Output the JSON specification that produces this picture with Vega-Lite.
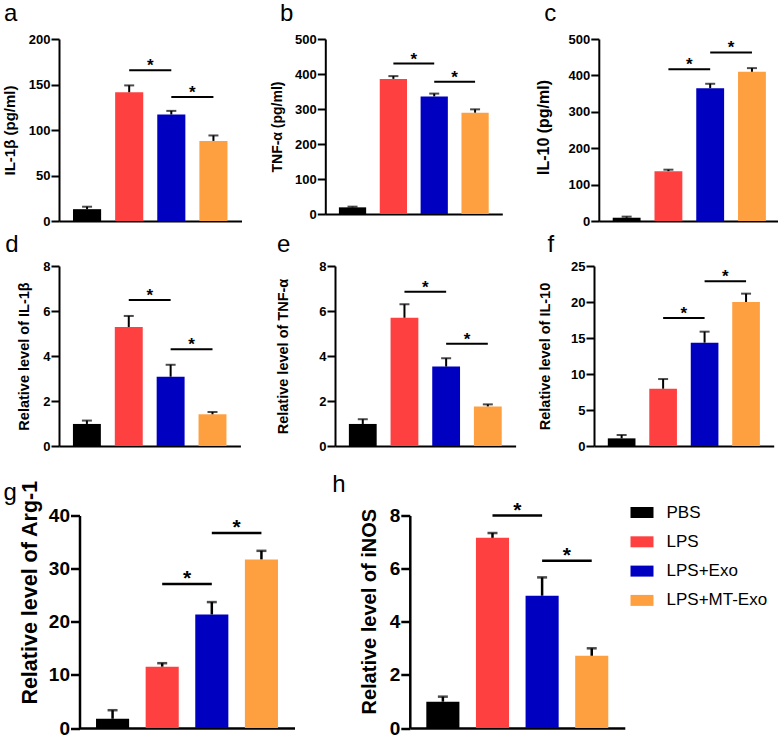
{
  "$schema": "https://vega.github.io/schema/vega-lite/v6.json",
  "padding": {"left": 2, "top": 2, "right": 0, "bottom": 0},
  "background": "white",
  "config": {
    "font": "Liberation Sans",
    "view": {"stroke": null},
    "axisX": {"labels": false, "ticks": false, "title": null, "domainColor": "black", "domainWidth": 2, "grid": false},
    "axisY": {"grid": false, "labelOverlap": false, "domainColor": "black", "domainWidth": 2, "tickColor": "black", "tickWidth": 2, "tickSize": 8, "labelPadding": 1, "labelFont": "Liberation Sans", "labelFontWeight": "bold", "labelFontSize": 13, "labelColor": "black", "titleFont": "Liberation Sans", "titleFontWeight": "bold", "titleColor": "black"},
    "title": {"anchor": "start", "frame": "bounds", "fontSize": 24, "fontWeight": "normal", "color": "black", "font": "Liberation Sans"}
  },
  "datasets": {
    "bars": [
      {"panel": "a", "group": "PBS", "mean": 13, "upper": 15.7},
      {"panel": "a", "group": "LPS", "mean": 141.5, "upper": 149},
      {"panel": "a", "group": "LPS+Exo", "mean": 117, "upper": 121},
      {"panel": "a", "group": "LPS+MT-Exo", "mean": 88, "upper": 94},
      {"panel": "b", "group": "PBS", "mean": 19, "upper": 21},
      {"panel": "b", "group": "LPS", "mean": 386, "upper": 394},
      {"panel": "b", "group": "LPS+Exo", "mean": 336, "upper": 344},
      {"panel": "b", "group": "LPS+MT-Exo", "mean": 289.5, "upper": 299},
      {"panel": "c", "group": "PBS", "mean": 9, "upper": 12},
      {"panel": "c", "group": "LPS", "mean": 137, "upper": 141},
      {"panel": "c", "group": "LPS+Exo", "mean": 365, "upper": 377},
      {"panel": "c", "group": "LPS+MT-Exo", "mean": 410, "upper": 420},
      {"panel": "d", "group": "PBS", "mean": 0.98, "upper": 1.13},
      {"panel": "d", "group": "LPS", "mean": 5.29, "upper": 5.78},
      {"panel": "d", "group": "LPS+Exo", "mean": 3.08, "upper": 3.61},
      {"panel": "d", "group": "LPS+MT-Exo", "mean": 1.41, "upper": 1.51},
      {"panel": "e", "group": "PBS", "mean": 0.98, "upper": 1.19},
      {"panel": "e", "group": "LPS", "mean": 5.7, "upper": 6.3},
      {"panel": "e", "group": "LPS+Exo", "mean": 3.53, "upper": 3.9},
      {"panel": "e", "group": "LPS+MT-Exo", "mean": 1.76, "upper": 1.85},
      {"panel": "f", "group": "PBS", "mean": 1.06, "upper": 1.53},
      {"panel": "f", "group": "LPS", "mean": 7.96, "upper": 9.3},
      {"panel": "f", "group": "LPS+Exo", "mean": 14.35, "upper": 15.88},
      {"panel": "f", "group": "LPS+MT-Exo", "mean": 20.0, "upper": 21.16},
      {"panel": "g", "group": "PBS", "mean": 1.74, "upper": 3.35},
      {"panel": "g", "group": "LPS", "mean": 11.55, "upper": 12.2},
      {"panel": "g", "group": "LPS+Exo", "mean": 21.37, "upper": 23.7},
      {"panel": "g", "group": "LPS+MT-Exo", "mean": 31.74, "upper": 33.35},
      {"panel": "h", "group": "PBS", "mean": 0.99, "upper": 1.18},
      {"panel": "h", "group": "LPS", "mean": 7.16, "upper": 7.34},
      {"panel": "h", "group": "LPS+Exo", "mean": 4.98, "upper": 5.67},
      {"panel": "h", "group": "LPS+MT-Exo", "mean": 2.72, "upper": 3.0}
    ],
    "sig": [
      {"panel": "a", "from": "LPS", "to": "LPS+Exo", "y": 165.6},
      {"panel": "a", "from": "LPS+Exo", "to": "LPS+MT-Exo", "y": 136.2},
      {"panel": "b", "from": "LPS", "to": "LPS+Exo", "y": 430},
      {"panel": "b", "from": "LPS+Exo", "to": "LPS+MT-Exo", "y": 378},
      {"panel": "c", "from": "LPS", "to": "LPS+Exo", "y": 417},
      {"panel": "c", "from": "LPS+Exo", "to": "LPS+MT-Exo", "y": 463},
      {"panel": "d", "from": "LPS", "to": "LPS+Exo", "y": 6.49},
      {"panel": "d", "from": "LPS+Exo", "to": "LPS+MT-Exo", "y": 4.3},
      {"panel": "e", "from": "LPS", "to": "LPS+Exo", "y": 6.86},
      {"panel": "e", "from": "LPS+Exo", "to": "LPS+MT-Exo", "y": 4.55},
      {"panel": "f", "from": "LPS", "to": "LPS+Exo", "y": 17.78},
      {"panel": "f", "from": "LPS+Exo", "to": "LPS+MT-Exo", "y": 22.87},
      {"panel": "g", "from": "LPS", "to": "LPS+Exo", "y": 27.1},
      {"panel": "g", "from": "LPS+Exo", "to": "LPS+MT-Exo", "y": 36.7},
      {"panel": "h", "from": "LPS", "to": "LPS+Exo", "y": 8.0},
      {"panel": "h", "from": "LPS+Exo", "to": "LPS+MT-Exo", "y": 6.3}
    ]
  },
  "resolve": {"scale": {"color": "independent"}, "legend": {"color": "independent"}},
  "spacing": 19.5,
  "vconcat": [
    {
      "spacing": 5,
      "resolve": {"scale": {"color": "independent"}, "legend": {"color": "independent"}},
      "vconcat": [
        {
          "spacing": 27.3,
          "resolve": {"scale": {"color": "independent"}, "legend": {"color": "independent"}},
          "hconcat": [
            {
              "width": 182.5, "height": 182,
              "title": {"text": "a", "dx": 1.6, "offset": 7},
              "data": {"name": "bars"},
              "transform": [{"filter": "datum.panel === 'a'"}],
              "encoding": {"x": {"field": "group", "type": "nominal", "scale": {"domain": ["PBS", "LPS", "LPS+Exo", "LPS+MT-Exo"], "paddingInner": 0.333, "paddingOuter": 0.333}}},
              "layer": [
                {"mark": {"type": "bar"}, "encoding": {"y": {"field": "mean", "type": "quantitative", "scale": {"domain": [0, 200], "nice": false}, "axis": {"values": [0, 50, 100, 150, 200], "title": "IL-1β (pg/ml)", "titleFontSize": 15, "titlePadding": 11}}, "color": {"field": "group", "type": "nominal", "scale": {"domain": ["PBS", "LPS", "LPS+Exo", "LPS+MT-Exo"], "range": ["#000000", "#FF4040", "#0000C0", "#FFA040"]}, "legend": null}}},
                {"mark": {"type": "rule", "strokeWidth": 2, "color": "black"}, "encoding": {"y": {"field": "mean", "type": "quantitative", "scale": {"domain": [0, 200], "nice": false}, "axis": {"values": [0, 50, 100, 150, 200], "title": "IL-1β (pg/ml)", "titleFontSize": 15, "titlePadding": 11}}, "y2": {"field": "upper"}}},
                {"mark": {"type": "tick", "size": 10, "thickness": 2, "color": "black"}, "encoding": {"y": {"field": "upper", "type": "quantitative", "scale": {"domain": [0, 200], "nice": false}, "axis": {"values": [0, 50, 100, 150, 200], "title": "IL-1β (pg/ml)", "titleFontSize": 15, "titlePadding": 11}}}},
                {"data": {"name": "sig"}, "transform": [{"filter": "datum.panel === 'a'"}], "mark": {"type": "rule", "strokeWidth": 2, "color": "black"}, "encoding": {"x": {"field": "from", "type": "nominal"}, "x2": {"field": "to"}, "y": {"field": "y", "type": "quantitative", "scale": {"domain": [0, 200], "nice": false}, "axis": {"values": [0, 50, 100, 150, 200], "title": "IL-1β (pg/ml)", "titleFontSize": 15, "titlePadding": 11}}}},
                {"data": {"name": "sig"}, "transform": [{"filter": "datum.panel === 'a'"}], "mark": {"type": "text", "text": "*", "dx": 21, "dy": 1, "fontSize": 17, "fontWeight": "bold", "baseline": "alphabetic", "color": "black"}, "encoding": {"x": {"field": "from", "type": "nominal"}, "y": {"field": "y", "type": "quantitative", "scale": {"domain": [0, 200], "nice": false}, "axis": {"values": [0, 50, 100, 150, 200], "title": "IL-1β (pg/ml)", "titleFontSize": 15, "titlePadding": 11}}}}
              ]
            },
            {
              "spacing": 96.5,
              "bounds": "flush",
              "resolve": {"scale": {"color": "independent"}, "legend": {"color": "independent"}},
              "hconcat": [
                {
                  "width": 177, "height": 175,
                  "title": {"text": "b", "dx": 10, "offset": 7},
                  "data": {"name": "bars"},
                  "transform": [{"filter": "datum.panel === 'b'"}],
                  "encoding": {"x": {"field": "group", "type": "nominal", "scale": {"domain": ["PBS", "LPS", "LPS+Exo", "LPS+MT-Exo"], "paddingInner": 0.333, "paddingOuter": 0.333}}},
                  "layer": [
                    {"mark": {"type": "bar"}, "encoding": {"y": {"field": "mean", "type": "quantitative", "scale": {"domain": [0, 500], "nice": false}, "axis": {"values": [0, 100, 200, 300, 400, 500], "title": "TNF-α (pg/ml)", "titleFontSize": 14, "titlePadding": 10.5}}, "color": {"field": "group", "type": "nominal", "scale": {"domain": ["PBS", "LPS", "LPS+Exo", "LPS+MT-Exo"], "range": ["#000000", "#FF4040", "#0000C0", "#FFA040"]}, "legend": null}}},
                    {"mark": {"type": "rule", "strokeWidth": 2, "color": "black"}, "encoding": {"y": {"field": "mean", "type": "quantitative", "scale": {"domain": [0, 500], "nice": false}, "axis": {"values": [0, 100, 200, 300, 400, 500], "title": "TNF-α (pg/ml)", "titleFontSize": 14, "titlePadding": 10.5}}, "y2": {"field": "upper"}}},
                    {"mark": {"type": "tick", "size": 10, "thickness": 2, "color": "black"}, "encoding": {"y": {"field": "upper", "type": "quantitative", "scale": {"domain": [0, 500], "nice": false}, "axis": {"values": [0, 100, 200, 300, 400, 500], "title": "TNF-α (pg/ml)", "titleFontSize": 14, "titlePadding": 10.5}}}},
                    {"data": {"name": "sig"}, "transform": [{"filter": "datum.panel === 'b'"}], "mark": {"type": "rule", "strokeWidth": 2, "color": "black"}, "encoding": {"x": {"field": "from", "type": "nominal"}, "x2": {"field": "to"}, "y": {"field": "y", "type": "quantitative", "scale": {"domain": [0, 500], "nice": false}, "axis": {"values": [0, 100, 200, 300, 400, 500], "title": "TNF-α (pg/ml)", "titleFontSize": 14, "titlePadding": 10.5}}}},
                    {"data": {"name": "sig"}, "transform": [{"filter": "datum.panel === 'b'"}], "mark": {"type": "text", "text": "*", "dx": 20.4, "dy": 1, "fontSize": 17, "fontWeight": "bold", "baseline": "alphabetic", "color": "black"}, "encoding": {"x": {"field": "from", "type": "nominal"}, "y": {"field": "y", "type": "quantitative", "scale": {"domain": [0, 500], "nice": false}, "axis": {"values": [0, 100, 200, 300, 400, 500], "title": "TNF-α (pg/ml)", "titleFontSize": 14, "titlePadding": 10.5}}}}
                  ]
                },
                {
                  "width": 181, "height": 182,
                  "title": {"text": "c", "dx": 8.4, "offset": 7},
                  "data": {"name": "bars"},
                  "transform": [{"filter": "datum.panel === 'c'"}],
                  "encoding": {"x": {"field": "group", "type": "nominal", "scale": {"domain": ["PBS", "LPS", "LPS+Exo", "LPS+MT-Exo"], "paddingInner": 0.333, "paddingOuter": 0.333}}},
                  "layer": [
                    {"mark": {"type": "bar"}, "encoding": {"y": {"field": "mean", "type": "quantitative", "scale": {"domain": [0, 500], "nice": false}, "axis": {"values": [0, 100, 200, 300, 400, 500], "title": "IL-10 (pg/ml)", "titleFontSize": 16, "titlePadding": 16.3, "titleY": 88}}, "color": {"field": "group", "type": "nominal", "scale": {"domain": ["PBS", "LPS", "LPS+Exo", "LPS+MT-Exo"], "range": ["#000000", "#FF4040", "#0000C0", "#FFA040"]}, "legend": null}}},
                    {"mark": {"type": "rule", "strokeWidth": 2, "color": "black"}, "encoding": {"y": {"field": "mean", "type": "quantitative", "scale": {"domain": [0, 500], "nice": false}, "axis": {"values": [0, 100, 200, 300, 400, 500], "title": "IL-10 (pg/ml)", "titleFontSize": 16, "titlePadding": 16.3, "titleY": 88}}, "y2": {"field": "upper"}}},
                    {"mark": {"type": "tick", "size": 10, "thickness": 2, "color": "black"}, "encoding": {"y": {"field": "upper", "type": "quantitative", "scale": {"domain": [0, 500], "nice": false}, "axis": {"values": [0, 100, 200, 300, 400, 500], "title": "IL-10 (pg/ml)", "titleFontSize": 16, "titlePadding": 16.3, "titleY": 88}}}},
                    {"data": {"name": "sig"}, "transform": [{"filter": "datum.panel === 'c'"}], "mark": {"type": "rule", "strokeWidth": 2, "color": "black"}, "encoding": {"x": {"field": "from", "type": "nominal"}, "x2": {"field": "to"}, "y": {"field": "y", "type": "quantitative", "scale": {"domain": [0, 500], "nice": false}, "axis": {"values": [0, 100, 200, 300, 400, 500], "title": "IL-10 (pg/ml)", "titleFontSize": 16, "titlePadding": 16.3, "titleY": 88}}}},
                    {"data": {"name": "sig"}, "transform": [{"filter": "datum.panel === 'c'"}], "mark": {"type": "text", "text": "*", "dx": 20.9, "dy": 1, "fontSize": 17, "fontWeight": "bold", "baseline": "alphabetic", "color": "black"}, "encoding": {"x": {"field": "from", "type": "nominal"}, "y": {"field": "y", "type": "quantitative", "scale": {"domain": [0, 500], "nice": false}, "axis": {"values": [0, 100, 200, 300, 400, 500], "title": "IL-10 (pg/ml)", "titleFontSize": 16, "titlePadding": 16.3, "titleY": 88}}}}
                  ]
                }
              ]
            }
          ]
        },
        {
          "spacing": 34,
          "resolve": {"scale": {"color": "independent"}, "legend": {"color": "independent"}},
          "hconcat": [
            {
              "width": 181.4, "height": 180,
              "title": {"text": "d", "dx": -11, "offset": 3},
              "data": {"name": "bars"},
              "transform": [{"filter": "datum.panel === 'd'"}],
              "encoding": {"x": {"field": "group", "type": "nominal", "scale": {"domain": ["PBS", "LPS", "LPS+Exo", "LPS+MT-Exo"], "paddingInner": 0.333, "paddingOuter": 0.333}}},
              "layer": [
                {"mark": {"type": "bar"}, "encoding": {"y": {"field": "mean", "type": "quantitative", "scale": {"domain": [0, 8], "nice": false}, "axis": {"values": [0, 2, 4, 6, 8], "title": "Relative level of IL-1β", "titleFontSize": 14.5, "titlePadding": 11.6}}, "color": {"field": "group", "type": "nominal", "scale": {"domain": ["PBS", "LPS", "LPS+Exo", "LPS+MT-Exo"], "range": ["#000000", "#FF4040", "#0000C0", "#FFA040"]}, "legend": null}}},
                {"mark": {"type": "rule", "strokeWidth": 2, "color": "black"}, "encoding": {"y": {"field": "mean", "type": "quantitative", "scale": {"domain": [0, 8], "nice": false}, "axis": {"values": [0, 2, 4, 6, 8], "title": "Relative level of IL-1β", "titleFontSize": 14.5, "titlePadding": 11.6}}, "y2": {"field": "upper"}}},
                {"mark": {"type": "tick", "size": 10, "thickness": 2, "color": "black"}, "encoding": {"y": {"field": "upper", "type": "quantitative", "scale": {"domain": [0, 8], "nice": false}, "axis": {"values": [0, 2, 4, 6, 8], "title": "Relative level of IL-1β", "titleFontSize": 14.5, "titlePadding": 11.6}}}},
                {"data": {"name": "sig"}, "transform": [{"filter": "datum.panel === 'd'"}], "mark": {"type": "rule", "strokeWidth": 2, "color": "black"}, "encoding": {"x": {"field": "from", "type": "nominal"}, "x2": {"field": "to"}, "y": {"field": "y", "type": "quantitative", "scale": {"domain": [0, 8], "nice": false}, "axis": {"values": [0, 2, 4, 6, 8], "title": "Relative level of IL-1β", "titleFontSize": 14.5, "titlePadding": 11.6}}}},
                {"data": {"name": "sig"}, "transform": [{"filter": "datum.panel === 'd'"}], "mark": {"type": "text", "text": "*", "dx": 21, "dy": 1, "fontSize": 17, "fontWeight": "bold", "baseline": "alphabetic", "color": "black"}, "encoding": {"x": {"field": "from", "type": "nominal"}, "y": {"field": "y", "type": "quantitative", "scale": {"domain": [0, 8], "nice": false}, "axis": {"values": [0, 2, 4, 6, 8], "title": "Relative level of IL-1β", "titleFontSize": 14.5, "titlePadding": 11.6}}}}
              ]
            },
            {
              "spacing": 78,
              "bounds": "flush",
              "resolve": {"scale": {"color": "independent"}, "legend": {"color": "independent"}},
              "hconcat": [
                {
                  "width": 180.6, "height": 180,
                  "title": {"text": "e", "dx": 1.6, "offset": 3},
                  "data": {"name": "bars"},
                  "transform": [{"filter": "datum.panel === 'e'"}],
                  "encoding": {"x": {"field": "group", "type": "nominal", "scale": {"domain": ["PBS", "LPS", "LPS+Exo", "LPS+MT-Exo"], "paddingInner": 0.333, "paddingOuter": 0.333}}},
                  "layer": [
                    {"mark": {"type": "bar"}, "encoding": {"y": {"field": "mean", "type": "quantitative", "scale": {"domain": [0, 8], "nice": false}, "axis": {"values": [0, 2, 4, 6, 8], "title": "Relative level of TNF-α", "titleFontSize": 14.5, "titlePadding": 28.3}}, "color": {"field": "group", "type": "nominal", "scale": {"domain": ["PBS", "LPS", "LPS+Exo", "LPS+MT-Exo"], "range": ["#000000", "#FF4040", "#0000C0", "#FFA040"]}, "legend": null}}},
                    {"mark": {"type": "rule", "strokeWidth": 2, "color": "black"}, "encoding": {"y": {"field": "mean", "type": "quantitative", "scale": {"domain": [0, 8], "nice": false}, "axis": {"values": [0, 2, 4, 6, 8], "title": "Relative level of TNF-α", "titleFontSize": 14.5, "titlePadding": 28.3}}, "y2": {"field": "upper"}}},
                    {"mark": {"type": "tick", "size": 10, "thickness": 2, "color": "black"}, "encoding": {"y": {"field": "upper", "type": "quantitative", "scale": {"domain": [0, 8], "nice": false}, "axis": {"values": [0, 2, 4, 6, 8], "title": "Relative level of TNF-α", "titleFontSize": 14.5, "titlePadding": 28.3}}}},
                    {"data": {"name": "sig"}, "transform": [{"filter": "datum.panel === 'e'"}], "mark": {"type": "rule", "strokeWidth": 2, "color": "black"}, "encoding": {"x": {"field": "from", "type": "nominal"}, "x2": {"field": "to"}, "y": {"field": "y", "type": "quantitative", "scale": {"domain": [0, 8], "nice": false}, "axis": {"values": [0, 2, 4, 6, 8], "title": "Relative level of TNF-α", "titleFontSize": 14.5, "titlePadding": 28.3}}}},
                    {"data": {"name": "sig"}, "transform": [{"filter": "datum.panel === 'e'"}], "mark": {"type": "text", "text": "*", "dx": 20.9, "dy": 1, "fontSize": 17, "fontWeight": "bold", "baseline": "alphabetic", "color": "black"}, "encoding": {"x": {"field": "from", "type": "nominal"}, "y": {"field": "y", "type": "quantitative", "scale": {"domain": [0, 8], "nice": false}, "axis": {"values": [0, 2, 4, 6, 8], "title": "Relative level of TNF-α", "titleFontSize": 14.5, "titlePadding": 28.3}}}}
                  ]
                },
                {
                  "width": 179.7, "height": 180,
                  "title": {"text": "f", "dx": 10, "offset": 3},
                  "data": {"name": "bars"},
                  "transform": [{"filter": "datum.panel === 'f'"}],
                  "encoding": {"x": {"field": "group", "type": "nominal", "scale": {"domain": ["PBS", "LPS", "LPS+Exo", "LPS+MT-Exo"], "paddingInner": 0.333, "paddingOuter": 0.333}}},
                  "layer": [
                    {"mark": {"type": "bar"}, "encoding": {"y": {"field": "mean", "type": "quantitative", "scale": {"domain": [0, 25], "nice": false}, "axis": {"values": [0, 5, 10, 15, 20, 25], "title": "Relative level of IL-10", "titleFontSize": 14.5, "titlePadding": 18}}, "color": {"field": "group", "type": "nominal", "scale": {"domain": ["PBS", "LPS", "LPS+Exo", "LPS+MT-Exo"], "range": ["#000000", "#FF4040", "#0000C0", "#FFA040"]}, "legend": null}}},
                    {"mark": {"type": "rule", "strokeWidth": 2, "color": "black"}, "encoding": {"y": {"field": "mean", "type": "quantitative", "scale": {"domain": [0, 25], "nice": false}, "axis": {"values": [0, 5, 10, 15, 20, 25], "title": "Relative level of IL-10", "titleFontSize": 14.5, "titlePadding": 18}}, "y2": {"field": "upper"}}},
                    {"mark": {"type": "tick", "size": 10, "thickness": 2, "color": "black"}, "encoding": {"y": {"field": "upper", "type": "quantitative", "scale": {"domain": [0, 25], "nice": false}, "axis": {"values": [0, 5, 10, 15, 20, 25], "title": "Relative level of IL-10", "titleFontSize": 14.5, "titlePadding": 18}}}},
                    {"data": {"name": "sig"}, "transform": [{"filter": "datum.panel === 'f'"}], "mark": {"type": "rule", "strokeWidth": 2, "color": "black"}, "encoding": {"x": {"field": "from", "type": "nominal"}, "x2": {"field": "to"}, "y": {"field": "y", "type": "quantitative", "scale": {"domain": [0, 25], "nice": false}, "axis": {"values": [0, 5, 10, 15, 20, 25], "title": "Relative level of IL-10", "titleFontSize": 14.5, "titlePadding": 18}}}},
                    {"data": {"name": "sig"}, "transform": [{"filter": "datum.panel === 'f'"}], "mark": {"type": "text", "text": "*", "dx": 20.7, "dy": 1, "fontSize": 17, "fontWeight": "bold", "baseline": "alphabetic", "color": "black"}, "encoding": {"x": {"field": "from", "type": "nominal"}, "y": {"field": "y", "type": "quantitative", "scale": {"domain": [0, 25], "nice": false}, "axis": {"values": [0, 5, 10, 15, 20, 25], "title": "Relative level of IL-10", "titleFontSize": 14.5, "titlePadding": 18}}}}
                  ]
                }
              ]
            }
          ]
        }
      ]
    },
    {
      "spacing": 19.5,
      "bounds": "flush",
      "resolve": {"scale": {"color": "independent"}, "legend": {"color": "independent"}},
      "hconcat": [
        {"width": 1, "height": 1, "data": {"values": []}, "mark": {"type": "point", "opacity": 0}},
        {
          "spacing": 115.3,
          "bounds": "flush",
          "resolve": {"scale": {"color": "independent"}, "legend": {"color": "independent"}},
          "hconcat": [
            {
              "width": 215, "height": 212.5,
              "title": {"text": "g", "dx": -16, "offset": -24.7},
              "data": {"name": "bars"},
              "transform": [{"filter": "datum.panel === 'g'"}],
              "encoding": {"x": {"field": "group", "type": "nominal", "scale": {"domain": ["PBS", "LPS", "LPS+Exo", "LPS+MT-Exo"], "paddingInner": 0.333, "paddingOuter": 0.333}, "axis": {"domainWidth": 2.5}}},
              "layer": [
                {"mark": {"type": "bar"}, "encoding": {"y": {"field": "mean", "type": "quantitative", "scale": {"domain": [0, 40], "nice": false}, "axis": {"values": [0, 10, 20, 30, 40], "title": "Relative level of Arg-1", "titleFontSize": 21.5, "titlePadding": 6.9, "titleY": 76.7, "labelFontSize": 19, "tickSize": 9, "domainWidth": 2.5, "tickWidth": 2.5}}, "color": {"field": "group", "type": "nominal", "scale": {"domain": ["PBS", "LPS", "LPS+Exo", "LPS+MT-Exo"], "range": ["#000000", "#FF4040", "#0000C0", "#FFA040"]}, "legend": null}}},
                {"mark": {"type": "rule", "strokeWidth": 2.5, "color": "black"}, "encoding": {"y": {"field": "mean", "type": "quantitative", "scale": {"domain": [0, 40], "nice": false}, "axis": {"values": [0, 10, 20, 30, 40], "title": "Relative level of Arg-1", "titleFontSize": 21.5, "titlePadding": 6.9, "titleY": 76.7, "labelFontSize": 19, "tickSize": 9, "domainWidth": 2.5, "tickWidth": 2.5}}, "y2": {"field": "upper"}}},
                {"mark": {"type": "tick", "size": 10, "thickness": 2.5, "color": "black"}, "encoding": {"y": {"field": "upper", "type": "quantitative", "scale": {"domain": [0, 40], "nice": false}, "axis": {"values": [0, 10, 20, 30, 40], "title": "Relative level of Arg-1", "titleFontSize": 21.5, "titlePadding": 6.9, "titleY": 76.7, "labelFontSize": 19, "tickSize": 9, "domainWidth": 2.5, "tickWidth": 2.5}}}},
                {"data": {"name": "sig"}, "transform": [{"filter": "datum.panel === 'g'"}], "mark": {"type": "rule", "strokeWidth": 2.5, "color": "black"}, "encoding": {"x": {"field": "from", "type": "nominal"}, "x2": {"field": "to"}, "y": {"field": "y", "type": "quantitative", "scale": {"domain": [0, 40], "nice": false}, "axis": {"values": [0, 10, 20, 30, 40], "title": "Relative level of Arg-1", "titleFontSize": 21.5, "titlePadding": 6.9, "titleY": 76.7, "labelFontSize": 19, "tickSize": 9, "domainWidth": 2.5, "tickWidth": 2.5}}}},
                {"data": {"name": "sig"}, "transform": [{"filter": "datum.panel === 'g'"}], "mark": {"type": "text", "text": "*", "dx": 24.8, "dy": 1, "fontSize": 21, "fontWeight": "bold", "baseline": "alphabetic", "color": "black"}, "encoding": {"x": {"field": "from", "type": "nominal"}, "y": {"field": "y", "type": "quantitative", "scale": {"domain": [0, 40], "nice": false}, "axis": {"values": [0, 10, 20, 30, 40], "title": "Relative level of Arg-1", "titleFontSize": 21.5, "titlePadding": 6.9, "titleY": 76.7, "labelFontSize": 19, "tickSize": 9, "domainWidth": 2.5, "tickWidth": 2.5}}}}
              ]
            },
            {
              "width": 215, "height": 212.5,
              "title": {"text": "h", "dx": -27.6, "offset": 3},
              "data": {"name": "bars"},
              "transform": [{"filter": "datum.panel === 'h'"}],
              "encoding": {"x": {"field": "group", "type": "nominal", "scale": {"domain": ["PBS", "LPS", "LPS+Exo", "LPS+MT-Exo"], "paddingInner": 0.333, "paddingOuter": 0.333}, "axis": {"domainWidth": 2.5}}},
              "layer": [
                {"mark": {"type": "bar"}, "encoding": {"y": {"field": "mean", "type": "quantitative", "scale": {"domain": [0, 8], "nice": false}, "axis": {"values": [0, 2, 4, 6, 8], "title": "Relative level of iNOS", "titleFontSize": 20, "titlePadding": 9.4, "titleY": 95.7, "labelFontSize": 19, "tickSize": 9, "domainWidth": 2.5, "tickWidth": 2.5}}, "color": {"field": "group", "type": "nominal", "scale": {"domain": ["PBS", "LPS", "LPS+Exo", "LPS+MT-Exo"], "range": ["#000000", "#FF4040", "#0000C0", "#FFA040"]}, "legend": {"orient": "none", "legendX": 220.7, "legendY": -14.5, "title": null, "symbolType": "M-1,-0.478H1V0.478H-1Z", "symbolSize": 529, "symbolStrokeWidth": 0, "labelFontSize": 17, "labelFont": "Liberation Sans", "labelColor": "black", "rowPadding": 9.3, "labelOffset": 13}}}},
                {"mark": {"type": "rule", "strokeWidth": 2.5, "color": "black"}, "encoding": {"y": {"field": "mean", "type": "quantitative", "scale": {"domain": [0, 8], "nice": false}, "axis": {"values": [0, 2, 4, 6, 8], "title": "Relative level of iNOS", "titleFontSize": 20, "titlePadding": 9.4, "titleY": 95.7, "labelFontSize": 19, "tickSize": 9, "domainWidth": 2.5, "tickWidth": 2.5}}, "y2": {"field": "upper"}}},
                {"mark": {"type": "tick", "size": 10, "thickness": 2.5, "color": "black"}, "encoding": {"y": {"field": "upper", "type": "quantitative", "scale": {"domain": [0, 8], "nice": false}, "axis": {"values": [0, 2, 4, 6, 8], "title": "Relative level of iNOS", "titleFontSize": 20, "titlePadding": 9.4, "titleY": 95.7, "labelFontSize": 19, "tickSize": 9, "domainWidth": 2.5, "tickWidth": 2.5}}}},
                {"data": {"name": "sig"}, "transform": [{"filter": "datum.panel === 'h'"}], "mark": {"type": "rule", "strokeWidth": 2.5, "color": "black"}, "encoding": {"x": {"field": "from", "type": "nominal"}, "x2": {"field": "to"}, "y": {"field": "y", "type": "quantitative", "scale": {"domain": [0, 8], "nice": false}, "axis": {"values": [0, 2, 4, 6, 8], "title": "Relative level of iNOS", "titleFontSize": 20, "titlePadding": 9.4, "titleY": 95.7, "labelFontSize": 19, "tickSize": 9, "domainWidth": 2.5, "tickWidth": 2.5}}}},
                {"data": {"name": "sig"}, "transform": [{"filter": "datum.panel === 'h'"}], "mark": {"type": "text", "text": "*", "dx": 24.8, "dy": 1, "fontSize": 21, "fontWeight": "bold", "baseline": "alphabetic", "color": "black"}, "encoding": {"x": {"field": "from", "type": "nominal"}, "y": {"field": "y", "type": "quantitative", "scale": {"domain": [0, 8], "nice": false}, "axis": {"values": [0, 2, 4, 6, 8], "title": "Relative level of iNOS", "titleFontSize": 20, "titlePadding": 9.4, "titleY": 95.7, "labelFontSize": 19, "tickSize": 9, "domainWidth": 2.5, "tickWidth": 2.5}}}}
              ]
            }
          ]
        }
      ]
    }
  ]
}
